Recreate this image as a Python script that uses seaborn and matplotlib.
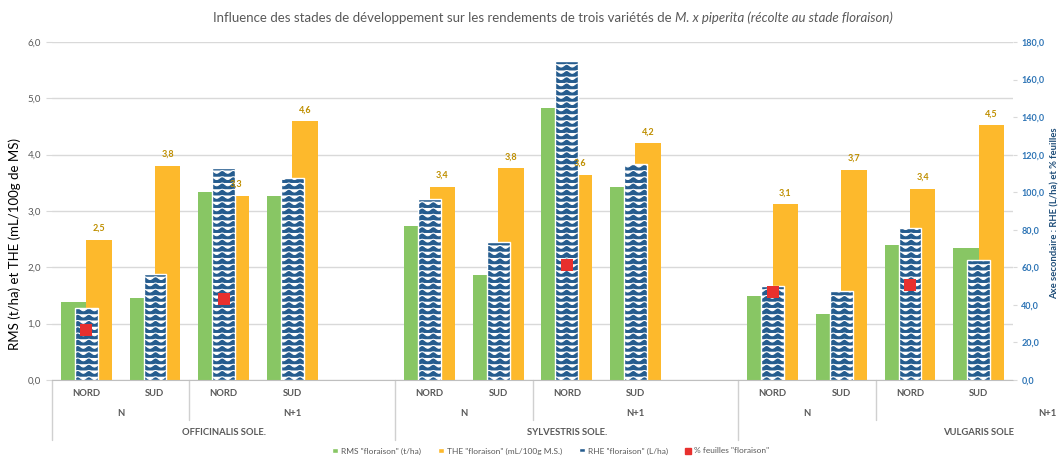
import numpy as np
import pandas as pd
import matplotlib
matplotlib.use("Agg")
import matplotlib.pyplot as plt
import matplotlib.hatch as mhatch
import matplotlib.transforms as mtransforms
from matplotlib.path import Path
from matplotlib.patches import Patch
from matplotlib.lines import Line2D
from matplotlib.ticker import FuncFormatter, MultipleLocator
import seaborn as sns

# ---------------- data ----------------
varietes = ["OFFICINALIS SOLE.", "SYLVESTRIS SOLE.", "VULGARIS SOLE"]
empty_slots = [1, 1, 3]          # empty category slots after each variety (Excel layout)
bar_variete = [v for v in varietes for _ in range(4)]
bar_stade = ["N", "N", "N+1", "N+1"] * 3
bar_site = ["NORD", "SUD"] * 6
rms = [1.39, 1.45, 3.34, 3.27, 2.74, 1.86, 4.82, 3.42, 1.50, 1.17, 2.40, 2.35]
the = [2.49, 3.80, 3.27, 4.59, 3.43, 3.76, 3.64, 4.20, 3.12, 3.73, 3.39, 4.52]
rhe = [38.2, 56.4, 113.1, 107.4, 96.4, 73.3, 170.1, 115.0, 50.2, 47.6, 81.1, 63.9]
feuilles = [26.6, np.nan, 43.0, np.nan, np.nan, np.nan, 61.2, np.nan, 47.0, np.nan, 50.6, np.nan]

title_regular = "Influence des stades de développement sur les rendements de trois variétés de "
title_italic = "M. x piperita (récolte au stade floraison)"
ylabel_left = "RMS (t/ha) et THE (mL/100g de MS)"
ylabel_right = "Axe secondaire : RHE (L/ha) et % feuilles"
legend_labels = ['RMS "floraison" (t/ha)', 'THE "floraison" (mL/100g M.S.)',
                 'RHE "floraison" (L/ha)', '% feuilles "floraison"']

# ---------------- styles ----------------
GREEN = "#88C664"
ORANGE = "#FDB92C"
BLUE = "#255C8E"
RED = "#E8302E"
LABEL_GOLD = "#BF8F00"
GREY_TXT = "#595959"
GRID = "#D9D9D9"


# custom wavy hatch (replaces the '-' hatch)
class WaveHatch(mhatch.HatchPatternBase):
    def __init__(self, hatch, density):
        self.rows = 16 if "-" in hatch else 0
        self.waves = 9
        self.npts = self.waves * 12 + 1
        self.num_vertices = self.rows * self.npts

    def set_vertices_and_codes(self, vertices, codes):
        xs = np.linspace(0, 1, self.npts)
        for j in range(self.rows):
            y0 = (j + 0.5) / self.rows
            ys = y0 + 0.014 * np.cos(2 * np.pi * self.waves * xs)
            s = slice(j * self.npts, (j + 1) * self.npts)
            vertices[s, 0] = xs
            vertices[s, 1] = ys
            codes[j * self.npts] = Path.MOVETO
            codes[j * self.npts + 1:(j + 1) * self.npts] = Path.LINETO


mhatch._hatch_types[mhatch._hatch_types.index(mhatch.HorizontalHatch)] = WaveHatch

sns.set_style("white")
plt.rcParams["font.family"] = ["Lato", "DejaVu Sans"]
plt.rcParams["hatch.color"] = "white"
plt.rcParams["hatch.linewidth"] = 0.75

# ---------------- category layout ----------------
keys = [f"{v}|{s}|{p}" for v, s, p in zip(bar_variete, bar_stade, bar_site)]
order = []
for v, ne in zip(varietes, empty_slots):
    order += [k for k in keys if k.startswith(v + "|")]
    order += [f"{v}|vide{i}" for i in range(ne)]

df_p = pd.DataFrame({"slot": keys * 2,
                     "mesure": ["RMS"] * len(keys) + ["THE"] * len(keys),
                     "valeur": rms + the})
df_s = pd.DataFrame({"slot": keys, "rhe": rhe, "feuilles": feuilles})

fig = plt.figure(figsize=(10.63, 4.57), dpi=100)
ax = fig.add_axes([52 / 1063, 1 - 380 / 457, (1013 - 52) / 1063, 338 / 457])
ax2 = ax.twinx()

sns.barplot(data=df_p, x="slot", y="valeur", hue="mesure", order=order,
            hue_order=["RMS", "THE"], palette=[GREEN, ORANGE], width=0.74,
            gap=0, dodge=True, errorbar=None, saturation=1, legend=False,
            linewidth=0, ax=ax)
sns.barplot(data=df_s, x="slot", y="rhe", order=order, color=BLUE, width=0.33,
            errorbar=None, saturation=1, ax=ax2)
for p in ax2.patches:
    p.set_hatch("-")
    p.set_edgecolor("white")
    p.set_linewidth(1.0)
sns.stripplot(data=df_s, x="slot", y="feuilles", order=order, jitter=False,
              marker="s", size=8, color=RED, linewidth=0, ax=ax2, zorder=5)

# data labels on THE bars (drawn on top of everything)
the_cont = ax.containers[1]
for b in the_cont:
    h = b.get_height()
    ax2.annotate(f"{h:.1f}".replace(".", ","), xy=(b.get_x() + b.get_width() / 2, h),
                 xycoords=ax.transData, xytext=(0, 5), textcoords="offset points",
                 ha="center", va="bottom", fontsize=6.5, fontweight="bold",
                 color=LABEL_GOLD, zorder=10)

n_visible = 14
ax.set_xlim(-0.5, n_visible - 0.5)
ax.set_ylim(0, 6)
ax2.set_ylim(0, 180)
ax.yaxis.set_major_locator(MultipleLocator(1))
ax2.yaxis.set_major_locator(MultipleLocator(20))
fmt = FuncFormatter(lambda v, p: f"{v:.1f}".replace(".", ","))
ax.yaxis.set_major_formatter(fmt)
ax2.yaxis.set_major_formatter(fmt)

ax.yaxis.grid(True, color=GRID, linewidth=1)
ax.xaxis.grid(False)
ax.set_axisbelow(True)
for s in ["top", "right", "left"]:
    ax.spines[s].set_visible(False)
ax.spines["bottom"].set_color("#BFBFBF")
for s in ax2.spines.values():
    s.set_visible(False)

ax.tick_params(axis="x", bottom=False, labelbottom=False)
ax.tick_params(axis="y", length=4, color=GRID, labelsize=7, labelcolor=GREY_TXT, pad=4)
ax2.tick_params(axis="y", length=3, color=GRID, labelsize=6.5, labelcolor="#2E75B6", pad=3)
for t in ax2.get_yticklabels():
    t.set_fontweight("bold")
ax.set_xlabel("")
ax.set_ylabel("")
ax2.set_xlabel("")
ax2.set_ylabel("")

# ---------------- multi-level category axis ----------------
trans = mtransforms.blended_transform_factory(ax.transData, ax.transAxes)
lab_kw = dict(transform=trans, ha="center", va="center", fontsize=6.8,
              fontweight="bold", color=GREY_TXT, clip_on=False)
for i, k in enumerate(order):
    parts = k.split("|")
    if len(parts) == 3:
        ax.text(i, -0.041, parts[2], **lab_kw)

for v, ne in zip(varietes, empty_slots):
    idx = [i for i, k in enumerate(order) if k.startswith(v + "|")]
    lo, hi = idx[0], idx[-1]
    n_idx = [i for i, k in enumerate(order) if k.startswith(v + "|N|")]
    n_lo, n_hi = n_idx[0], n_idx[-1]
    ax.text((n_lo + n_hi) / 2, -0.098, "N", **lab_kw)
    ax.text((n_hi + 1 + hi) / 2, -0.098, "N+1", **lab_kw)
    ax.text((lo + hi) / 2, -0.154, v, **lab_kw)
    ax.plot([lo - 0.5, lo - 0.5], [0, -0.178], transform=trans, color="#D0D0D0",
            lw=1, clip_on=False)
    ax.plot([n_hi + 0.5, n_hi + 0.5], [0, -0.118], transform=trans, color="#D0D0D0",
            lw=1, clip_on=False)

# ---------------- titles / axis labels ----------------
fig.text(15 / 1063, 1 - 244 / 457, ylabel_left, rotation=90, ha="center", va="center",
         fontsize=9.5, color="black")
fig.text(1055 / 1063, 1 - 213 / 457, ylabel_right, rotation=90, ha="center", va="center",
         fontsize=6.8, fontweight="bold", color="#1F4E79")

t1 = fig.text(0, 1 - 18 / 457, title_regular, ha="left", va="center", fontsize=9.5,
              color=GREY_TXT)
t2 = fig.text(0, 1 - 18 / 457, title_italic, ha="left", va="center", fontsize=9.5,
              color=GREY_TXT, style="italic")
fig.canvas.draw()
r = fig.canvas.get_renderer()
w1 = t1.get_window_extent(r).width
w2 = t2.get_window_extent(r).width
W = fig.bbox.width
x0 = 553 - (w1 + w2) / 2
t1.set_x(x0 / W)
t2.set_x((x0 + w1) / W)

# ---------------- legend ----------------
handles = [Patch(facecolor=GREEN), Patch(facecolor=ORANGE),
           Patch(facecolor=BLUE, hatch="-", edgecolor="white"),
           Line2D([], [], marker="s", color=RED, linestyle="none", markersize=4.5)]
fig.legend(handles, legend_labels, loc="center", bbox_to_anchor=(0.518, 1 - 451 / 457),
           ncol=4, frameon=False, fontsize=6, handlelength=0.7, handleheight=0.7,
           handletextpad=0.3, columnspacing=2.1, labelcolor=GREY_TXT)

fig.savefig("out.png", dpi=100)
